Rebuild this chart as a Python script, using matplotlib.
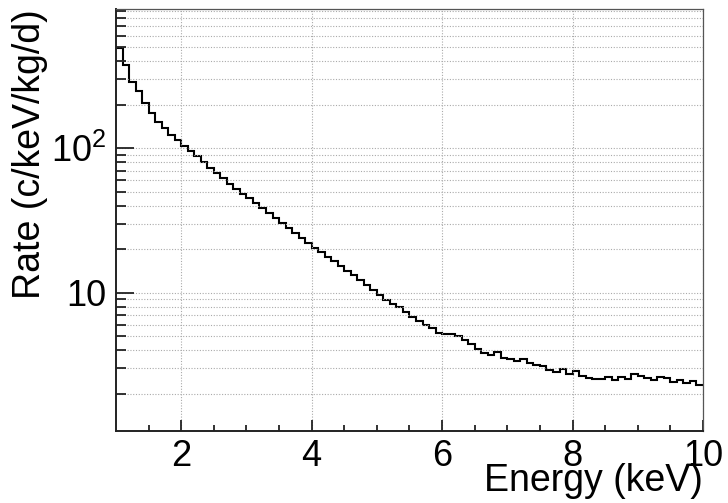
import numpy as np
import matplotlib
matplotlib.use("Agg")
import matplotlib.pyplot as plt
from matplotlib.ticker import FixedLocator, FixedFormatter, NullFormatter

plt.rcParams['font.family'] = ['Liberation Sans', 'DejaVu Sans']
plt.rcParams['mathtext.fontset'] = 'custom'
plt.rcParams['mathtext.rm'] = 'Liberation Sans'

# Data: histogram bin edges (keV) and rates (c/keV/kg/d)
bin_edges = np.linspace(1.0, 10.0, 91)
rates = [
    492, 380, 289, 250, 205, 175, 153, 138, 124, 114,
    104, 96, 88, 80, 73, 67, 62, 57, 52.5, 48.5,
    45, 41.5, 38.3, 35.4, 32.8, 30.3, 28, 25.9, 24, 22.1,
    20.3, 19.0, 17.6, 16.5, 15.2, 14.2, 13.2, 12.2, 11.3, 10.4,
    9.6, 8.95, 8.4, 7.9, 7.3, 6.8, 6.4, 6.0, 5.7, 5.3,
    5.2, 5.15, 5.0, 4.7, 4.4, 4.1, 3.8, 3.7, 3.9, 3.55,
    3.45, 3.35, 3.46, 3.24, 3.18, 3.12, 2.9, 2.82, 2.95, 2.72,
    2.88, 2.65, 2.57, 2.53, 2.53, 2.6, 2.48, 2.6, 2.54, 2.72,
    2.65, 2.57, 2.47, 2.62, 2.55, 2.42, 2.48, 2.36, 2.43, 2.28,
]
x_major = [2, 4, 6, 8, 10]
x_labels = ['2', '4', '6', '8', '10']
x_minor = [1.5, 2.5, 3, 3.5, 4.5, 5, 5.5, 6.5, 7, 7.5, 8.5, 9, 9.5]
y_major = [10, 100]
y_labels = ['10', r'$\mathregular{10^{2}}$']
y_minor = [2, 3, 4, 5, 6, 7, 8, 9, 20, 30, 40, 50, 60, 70, 80, 90,
           200, 300, 400, 500, 600, 700, 800, 900]

fig = plt.figure(figsize=(7.28, 5.03), dpi=100)
ax = fig.add_axes([116/728, 1 - 430.7/503, (703 - 116)/728, (430.7 - 9.3)/503])

ax.stairs(rates, bin_edges, color='black', linewidth=1.5, baseline=None)

ax.set_yscale('log')
ax.set_xlim(1, 10)
ax.set_ylim(1.107, 918)

ax.xaxis.set_major_locator(FixedLocator(x_major))
ax.xaxis.set_major_formatter(FixedFormatter(x_labels))
ax.xaxis.set_minor_locator(FixedLocator(x_minor))
ax.xaxis.set_minor_formatter(NullFormatter())
ax.yaxis.set_major_locator(FixedLocator(y_major))
ax.yaxis.set_major_formatter(FixedFormatter(y_labels))
ax.yaxis.set_minor_locator(FixedLocator(y_minor))
ax.yaxis.set_minor_formatter(NullFormatter())

ax.tick_params(axis='both', which='both', direction='in', top=False, right=False,
               labelsize=26, color='#222222', width=1.3)
ax.tick_params(axis='x', which='major', length=8, pad=6)
ax.tick_params(axis='x', which='minor', length=4)
ax.tick_params(axis='y', which='major', length=13, pad=7)
ax.tick_params(axis='y', which='minor', length=7)

ax.grid(True, axis='y', which='both', linestyle=(0, (1, 1.5)), color='#aaaaaa', linewidth=0.8)
ax.grid(True, axis='x', which='major', linestyle=(0, (1, 1.5)), color='#aaaaaa', linewidth=0.8)

for s in ['left', 'bottom']:
    ax.spines[s].set_linewidth(1.4)
    ax.spines[s].set_color('#222222')
for s in ['top', 'right']:
    ax.spines[s].set_linewidth(0.9)
    ax.spines[s].set_color('#555555')

fig.text(703/728, 1 - 491/503, 'Energy (keV)', ha='right', va='baseline', fontsize=27)
fig.text(30/728, 1 - 9/503, 'Rate (c/keV/kg/d)', ha='center', va='top', rotation=90, fontsize=27)

fig.savefig('out.png', dpi=100)
